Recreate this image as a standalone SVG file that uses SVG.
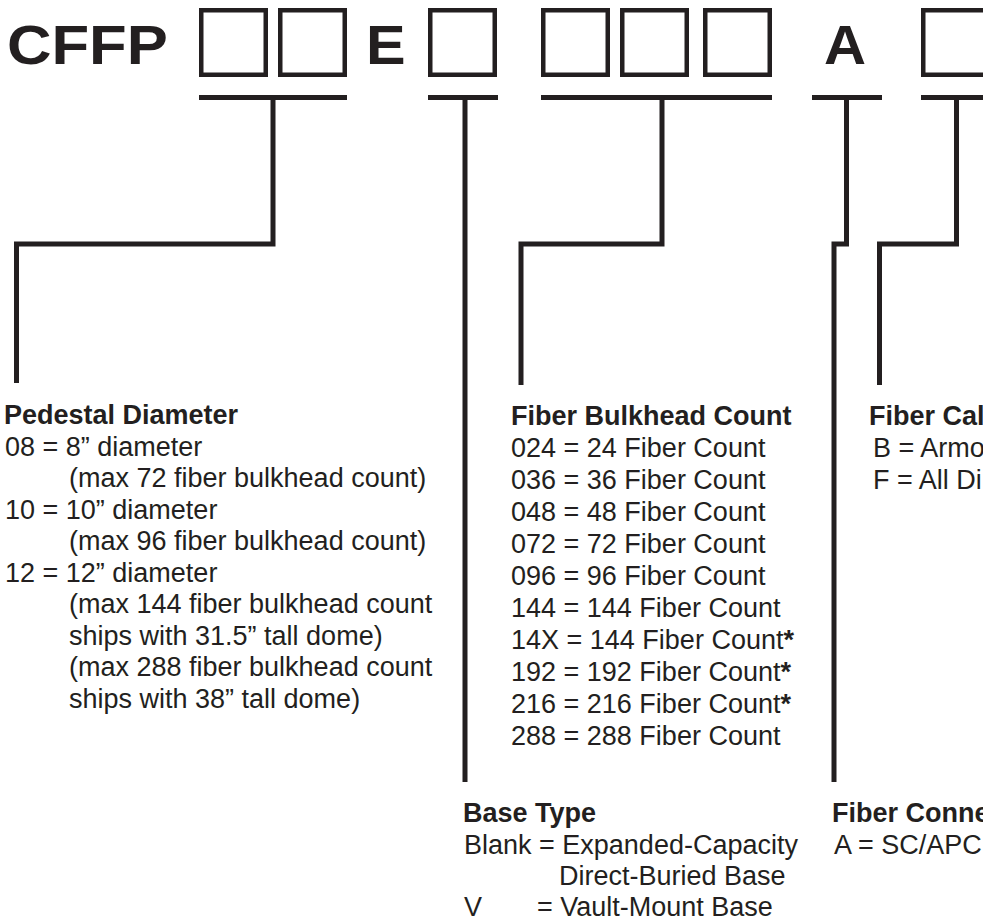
<svg xmlns="http://www.w3.org/2000/svg" width="983" height="921" viewBox="0 0 983 921">
<style>
.hd{font-family:"Liberation Sans",Arial,sans-serif;font-weight:bold;font-size:56px;fill:#231f20}
.t{font-family:"Liberation Sans",Arial,sans-serif;font-size:27px;fill:#231f20}
.b{font-weight:bold}
.box{fill:none;stroke:#231f20;stroke-width:4.5}
.ul{stroke:#231f20;stroke-width:5;fill:none}
.ln{stroke:#231f20;stroke-width:5;fill:none;stroke-linejoin:miter;stroke-linecap:butt}
</style>
<rect width="983" height="921" fill="#ffffff"/>
<g id="code">
<text class="hd" transform="translate(7,63.5) scale(1.1,1)">CFFP</text>
<text class="hd" transform="translate(366,63.5) scale(1.06,1)">E</text>
<text class="hd" transform="translate(824,63.5) scale(1.04,1)">A</text>
<rect class="box" x="201.25" y="10.25" width="64.5" height="64.5"/>
<rect class="box" x="280.25" y="10.25" width="64.5" height="64.5"/>
<rect class="box" x="430.25" y="10.25" width="64.5" height="64.5"/>
<rect class="box" x="543.25" y="10.25" width="64.5" height="64.5"/>
<rect class="box" x="622.25" y="10.25" width="64.5" height="64.5"/>
<rect class="box" x="705.25" y="10.25" width="64.5" height="64.5"/>
<rect class="box" x="923.25" y="10.25" width="64.5" height="64.5"/>
</g>
<g id="connectors">
<line class="ul" x1="199" y1="97.5" x2="347" y2="97.5"/>
<line class="ul" x1="428" y1="97.5" x2="498" y2="97.5"/>
<line class="ul" x1="541" y1="97.5" x2="772" y2="97.5"/>
<line class="ul" x1="812" y1="97.5" x2="882" y2="97.5"/>
<line class="ul" x1="921" y1="97.5" x2="990" y2="97.5"/>
<path class="ln" d="M273,97.5 V244 H16.5 V383"/>
<path class="ln" d="M465,97.5 V782"/>
<path class="ln" d="M662,97.5 V244 H521 V385"/>
<path class="ln" d="M846.5,97.5 V244 H834 V782"/>
<path class="ln" d="M956.5,97.5 V244 H879.5 V385"/>
</g>
<g id="pedestal-diameter">
<text class="t b" x="4" y="424">Pedestal Diameter</text>
<text class="t" x="5" y="455.5">08 = 8” diameter</text>
<text class="t" x="69" y="487">(max 72 fiber bulkhead count)</text>
<text class="t" x="5" y="518.5">10 = 10” diameter</text>
<text class="t" x="69" y="550">(max 96 fiber bulkhead count)</text>
<text class="t" x="5" y="581.5">12 = 12” diameter</text>
<text class="t" x="69" y="613">(max 144 fiber bulkhead count</text>
<text class="t" x="69" y="644.5">ships with 31.5” tall dome)</text>
<text class="t" x="69" y="676">(max 288 fiber bulkhead count</text>
<text class="t" x="69" y="707.5">ships with 38” tall dome)</text>
</g>
<g id="fiber-bulkhead-count">
<text class="t b" x="511" y="425">Fiber Bulkhead Count</text>
<text class="t" x="511" y="457">024 = 24 Fiber Count</text>
<text class="t" x="511" y="489">036 = 36 Fiber Count</text>
<text class="t" x="511" y="521">048 = 48 Fiber Count</text>
<text class="t" x="511" y="553">072 = 72 Fiber Count</text>
<text class="t" x="511" y="585">096 = 96 Fiber Count</text>
<text class="t" x="511" y="617">144 = 144 Fiber Count</text>
<text class="t" x="511" y="649">14X = 144 Fiber Count<tspan class="b">*</tspan></text>
<text class="t" x="511" y="681">192 = 192 Fiber Count<tspan class="b">*</tspan></text>
<text class="t" x="511" y="713">216 = 216 Fiber Count<tspan class="b">*</tspan></text>
<text class="t" x="511" y="745">288 = 288 Fiber Count</text>
</g>
<g id="fiber-cable">
<text class="t b" x="869" y="425">Fiber Cal</text>
<text class="t" x="873" y="457">B = Armo</text>
<text class="t" x="873" y="489">F  = All Di</text>
</g>
<g id="base-type">
<text class="t b" x="463" y="822">Base Type</text>
<text class="t" x="464" y="853.5">Blank = Expanded-Capacity</text>
<text class="t" x="559" y="885">Direct-Buried Base</text>
<text class="t" x="464" y="916">V<tspan x="537">= Vault-Mount Base</tspan></text>
</g>
<g id="fiber-connector">
<text class="t b" x="832" y="822">Fiber Conne</text>
<text class="t" x="834" y="853.5">A = SC/APC</text>
</g>
</svg>
